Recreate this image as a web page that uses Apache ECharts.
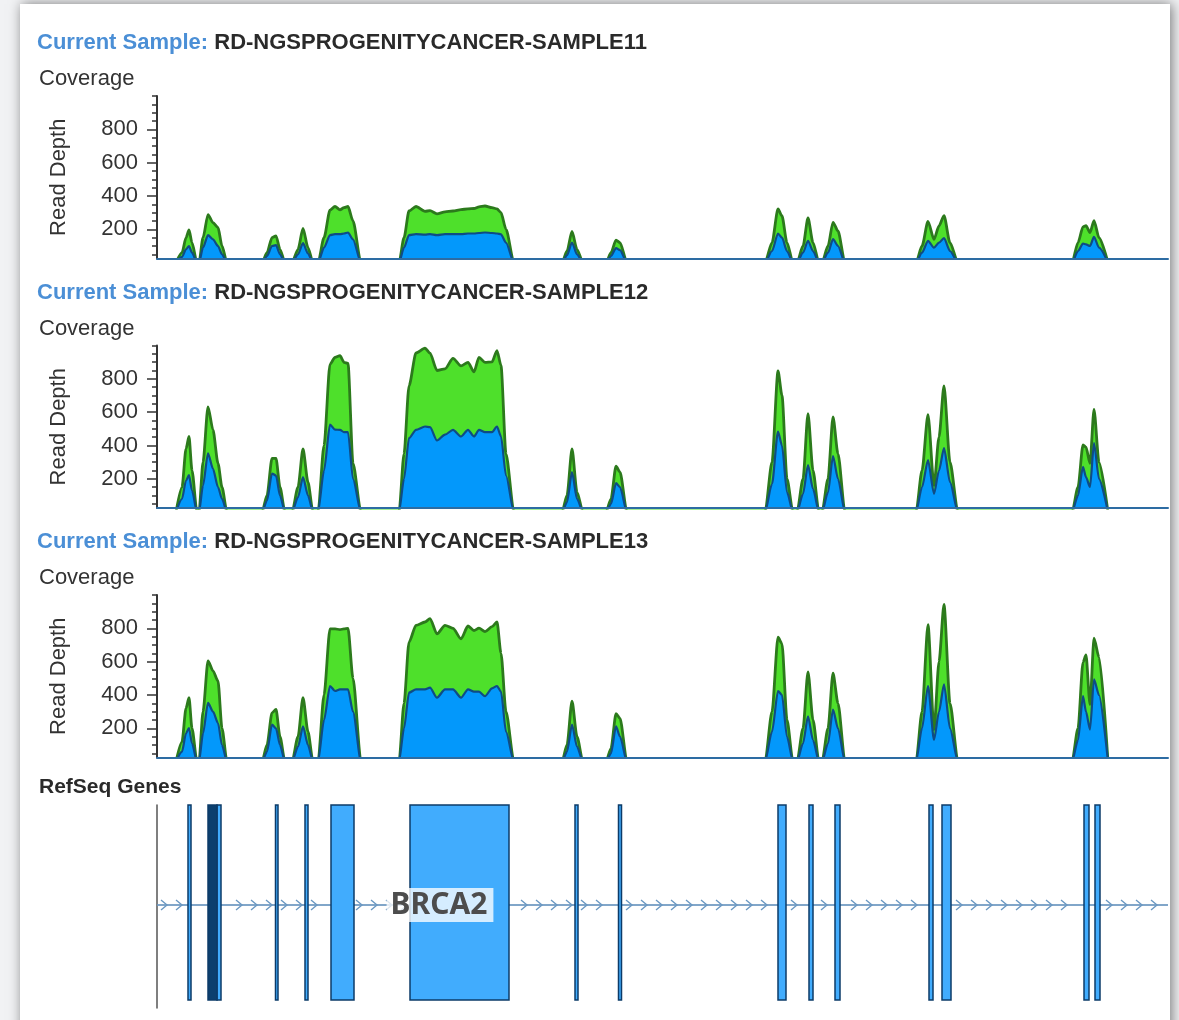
<!DOCTYPE html>
<html>
<head>
<meta charset="utf-8">
<title>BRCA2 coverage</title>
<script src="https://cdn.jsdelivr.net/npm/echarts@6/dist/echarts.min.js"></script>
<style>
  html, body { margin: 0; padding: 0; background: #f1f2f4; }
  #chart { width: 1179px; height: 1020px; }
</style>
</head>
<body>
<div id="chart"></div>
<script>
// 三个样本的覆盖度 + RefSeq 基因轨道
var sampleNames = [
  'RD-NGSPROGENITYCANCER-SAMPLE11',
  'RD-NGSPROGENITYCANCER-SAMPLE12',
  'RD-NGSPROGENITYCANCER-SAMPLE13'
]

// 位置（相对坐标，0 ~ 1011）
var positions = [
  19, 25, 29, 32, 35, 40,
  42, 46, 51, 56, 61, 65, 70,
  105, 110, 115, 119, 123, 128,
  135, 141, 146, 151, 156,
  161, 167, 173, 178, 183, 187, 191, 196, 204,
  242, 247, 252, 259, 268, 273, 280, 288, 296, 304, 311, 317, 322, 328, 335, 340, 344, 349, 357,
  405, 410, 415, 420, 426,
  449, 454, 459, 463, 470,
  608, 615, 621, 625, 630, 636,
  640, 646, 651, 656, 662,
  665, 671, 676, 681, 688,
  759, 765, 771, 777, 782, 787, 793, 801,
  915, 921, 926, 929, 933, 937, 942, 951
]

var total11 = [
  0, 60, 150, 196, 120, 0,
  0, 150, 288, 240, 211, 100, 0,
  0, 60, 150, 161, 80, 0,
  0, 80, 205, 90, 0,
  0, 150, 315, 337, 317, 330, 337, 250, 0,
  0, 150, 310, 337, 308, 312, 293, 305, 310, 318, 323, 325, 335, 340, 330, 323, 300, 200, 0,
  0, 70, 187, 80, 0,
  0, 60, 135, 120, 0,
  0, 120, 323, 280, 120, 0,
  0, 100, 268, 120, 0,
  0, 100, 242, 190, 0,
  0, 100, 248, 140, 220, 282, 120, 0,
  0, 120, 215, 222, 181, 252, 150, 0
]
var forward11 = [
  0, 35, 80, 100, 60, 0,
  0, 90, 165, 140, 100, 50, 0,
  0, 40, 100, 105, 50, 0,
  0, 50, 117, 55, 0,
  0, 90, 165, 171, 171, 175, 181, 140, 0,
  0, 90, 165, 171, 168, 171, 165, 171, 171, 171, 175, 175, 178, 181, 178, 175, 170, 120, 0,
  0, 45, 121, 50, 0,
  0, 40, 87, 75, 0,
  0, 70, 175, 150, 70, 0,
  0, 60, 131, 70, 0,
  0, 60, 141, 100, 0,
  0, 60, 131, 90, 120, 147, 70, 0,
  0, 70, 115, 110, 100, 155, 90, 0
]

var total12 = [
  0, 150, 380, 454, 250, 0,
  0, 300, 632, 494, 293, 150, 0,
  0, 100, 323, 323, 150, 0,
  0, 150, 379, 180, 0,
  0, 400, 888, 929, 939, 899, 893, 293, 0,
  0, 350, 757, 955, 984, 954, 850, 860, 923, 878, 899, 842, 929, 899, 902, 969, 880, 350, 0,
  0, 100, 379, 120, 0,
  0, 80, 276, 240, 0,
  0, 300, 848, 700, 200, 0,
  0, 200, 591, 250, 0,
  0, 200, 571, 350, 0,
  0, 250, 585, 160, 450, 757, 300, 0,
  0, 150, 404, 390, 293, 616, 300, 0
]
var forward12 = [
  0, 80, 190, 222, 130, 0,
  0, 160, 353, 260, 151, 80, 0,
  0, 70, 232, 220, 100, 0,
  0, 90, 211, 100, 0,
  0, 250, 525, 495, 494, 480, 480, 200, 0,
  0, 200, 444, 494, 514, 510, 430, 465, 494, 454, 494, 454, 494, 480, 480, 514, 454, 220, 0,
  0, 60, 240, 80, 0,
  0, 50, 174, 150, 0,
  0, 170, 484, 400, 120, 0,
  0, 110, 282, 140, 0,
  0, 120, 337, 200, 0,
  0, 150, 313, 110, 250, 384, 180, 0,
  0, 100, 272, 210, 151, 414, 200, 0
]

var total13 = [
  0, 120, 320, 384, 200, 0,
  0, 300, 605, 545, 484, 200, 0,
  0, 100, 293, 313, 150, 0,
  0, 150, 384, 180, 0,
  0, 400, 797, 797, 792, 797, 800, 500, 0,
  0, 350, 717, 818, 838, 858, 767, 818, 800, 737, 814, 787, 801, 780, 810, 838, 650, 300, 0,
  0, 100, 363, 150, 0,
  0, 80, 288, 260, 0,
  0, 300, 747, 707, 250, 0,
  0, 200, 539, 250, 0,
  0, 200, 531, 350, 0,
  0, 300, 822, 192, 600, 943, 350, 0,
  0, 200, 596, 640, 343, 741, 626, 0
]
var forward13 = [
  0, 60, 170, 202, 110, 0,
  0, 170, 353, 300, 232, 100, 0,
  0, 60, 222, 200, 100, 0,
  0, 90, 212, 100, 0,
  0, 250, 454, 424, 434, 434, 434, 300, 0,
  0, 200, 414, 434, 434, 444, 384, 434, 434, 384, 434, 420, 420, 393, 440, 454, 420, 180, 0,
  0, 60, 222, 90, 0,
  0, 50, 212, 150, 0,
  0, 180, 424, 400, 150, 0,
  0, 110, 272, 130, 0,
  0, 110, 313, 200, 0,
  0, 200, 454, 131, 300, 464, 200, 0,
  0, 130, 393, 300, 192, 494, 400, 0
]

var totals = [total11, total12, total13]
var forwards = [forward11, forward12, forward13]

// y轴刻度
var depthLabels = [200, 400, 600, 800]
var depthTicks = [50, 100, 150, 200, 250, 300, 350, 400, 450, 500, 550, 600, 650, 700, 750, 800, 850, 900, 950, 1000]

// 基因 BRCA2 外显子 [起点, 终点]
var geneName = 'BRCA2'
var geneSpan = [0, 1011]
var exons = [
  [31, 34], [60, 64], [118.5, 121], [148, 151], [174, 197], [253, 352],
  [418, 421], [461.5, 464.5], [621, 629], [652, 656], [678, 683],
  [772, 776], [785, 794], [927, 932], [938, 943]
]
var darkExons = [[51, 60]]

var FONT = '"Liberation Sans", Arial, sans-serif'
var gridTops = [96, 345.5, 595]
var gridH = 162.5

function pairs(vals) {
  return positions.map(function (p, i) { return [p, vals[i]] })
}

var grids = []
var xAxes = []
var yAxes = []
var series = []
var titles = []

gridTops.forEach(function (top, k) {
  grids.push({ left: 157, right: 11, top: top, height: gridH })
  xAxes.push({
    gridIndex: k, type: 'value', min: 0, max: 1011, z: 5,
    axisLine: { show: true, onZero: false, lineStyle: { color: '#2d6ca3', width: 2 } },
    axisTick: { show: false }, axisLabel: { show: false }, splitLine: { show: false }
  })
  yAxes.push({
    gridIndex: k, type: 'value', position: 'left', min: 25, max: 1000,
    name: 'Read Depth', nameLocation: 'middle', nameGap: 87,
    nameTextStyle: { fontSize: 22, color: '#333', fontFamily: FONT },
    axisLine: { show: true, lineStyle: { color: '#333', width: 2 } },
    axisTick: { show: true, customValues: depthLabels, length: 10, lineStyle: { color: '#333', width: 1.5 } },
    axisLabel: { customValues: depthLabels, fontSize: 22, color: '#333', margin: 19, fontFamily: FONT },
    splitLine: { show: false }
  })
  // 次刻度
  yAxes.push({
    gridIndex: k, type: 'value', position: 'left', min: 25, max: 1000,
    axisLine: { show: false },
    axisTick: { show: true, customValues: depthTicks, length: 5, lineStyle: { color: '#333', width: 1.5 } },
    axisLabel: { show: false }, splitLine: { show: false }
  })
  series.push({
    type: 'line', xAxisIndex: k, yAxisIndex: 2 * k, data: pairs(totals[k]),
    symbol: 'none', smooth: 0.25, smoothMonotone: 'x', silent: true, z: 2,
    lineStyle: { color: '#2c7a1c', width: 2.8 },
    areaStyle: { color: '#4ee02b', opacity: 1 }
  })
  series.push({
    type: 'line', xAxisIndex: k, yAxisIndex: 2 * k, data: pairs(forwards[k]),
    symbol: 'none', smooth: 0.25, smoothMonotone: 'x', silent: true, z: 3,
    lineStyle: { color: '#0f4c84', width: 2.2 },
    areaStyle: { color: '#0398fb', opacity: 1 }
  })
  titles.push({
    text: '{a|Current Sample:} {b|' + sampleNames[k] + '}',
    left: 37, top: top - 64, padding: 0,
    textStyle: {
      fontSize: 22, fontFamily: FONT,
      rich: {
        a: { color: '#4b8fd6', fontWeight: 'bold', fontSize: 22, fontFamily: FONT },
        b: { color: '#2a2a2a', fontWeight: 'bold', fontSize: 22, fontFamily: FONT }
      }
    }
  })
  titles.push({
    text: 'Coverage', left: 39, top: top - 28, padding: 0,
    textStyle: { fontSize: 22, fontWeight: 'normal', color: '#333', fontFamily: FONT }
  })
})

titles.push({
  text: 'RefSeq Genes', left: 39, top: 777, padding: 0,
  textStyle: { fontSize: 21, fontWeight: 'bold', color: '#2a2a2a', fontFamily: FONT }
})

// 基因轨道
grids.push({ left: 157, right: 11, top: 805, height: 203 })
xAxes.push({ gridIndex: 3, type: 'value', min: 0, max: 1011, show: false })
yAxes.push({
  gridIndex: 3, type: 'value', min: 0, max: 1, position: 'left',
  axisLine: { show: true, lineStyle: { color: '#555', width: 1.5 } },
  axisTick: { show: false }, axisLabel: { show: false }, splitLine: { show: false }
})

var allExons = exons.concat(darkExons)

function nearExon(px, api) {
  for (var i = 0; i < allExons.length; i++) {
    var a = api.coord([allExons[i][0], 0])[0]
    var b = api.coord([allExons[i][1], 0])[0]
    if (px > a - 5 && px < b + 5) return true
  }
  return false
}

// 内含子线和箭头
series.push({
  type: 'custom', xAxisIndex: 3, yAxisIndex: 6, silent: true, z: 1,
  data: [geneSpan],
  renderItem: function (params, api) {
    var s = api.coord([api.value(0), 0])[0]
    var e = api.coord([api.value(1), 0])[0]
    var cs = params.coordSys
    var y = cs.y + 100
    var kids = [{
      type: 'line', shape: { x1: s, y1: y, x2: e, y2: y },
      style: { stroke: '#6b97bf', lineWidth: 2, opacity: 0.85 }
    }]
    for (var x = s + 8; x < e - 2; x += 15) {
      if (nearExon(x, api)) continue
      kids.push({
        type: 'polyline',
        shape: { points: [[x - 4, y - 5], [x + 2, y], [x - 4, y + 5]] },
        style: { stroke: '#6a98c2', lineWidth: 1.4, fill: null }
      })
    }
    return { type: 'group', children: kids }
  }
})

function exonRender(fill) {
  return function (params, api) {
    var s = api.coord([api.value(0), 0])[0]
    var e = api.coord([api.value(1), 0])[0]
    var cs = params.coordSys
    return {
      type: 'rect',
      shape: { x: s, y: cs.y, width: Math.max(e - s, 1), height: cs.height - 8 },
      style: { fill: fill, stroke: '#0c3b68', lineWidth: 1.5 }
    }
  }
}

series.push({
  type: 'custom', xAxisIndex: 3, yAxisIndex: 6, silent: true, z: 2,
  data: exons, renderItem: exonRender('#41acfd')
})
series.push({
  type: 'custom', xAxisIndex: 3, yAxisIndex: 6, silent: true, z: 2,
  data: darkExons, renderItem: exonRender('#0b3f6e')
})

// 基因名标签
series.push({
  type: 'custom', xAxisIndex: 3, yAxisIndex: 6, silent: true, z: 4,
  data: [geneSpan],
  renderItem: function (params, api) {
    var x = api.coord([283, 0])[0]
    var y = params.coordSys.y + 100
    return {
      type: 'text',
      style: {
        text: geneName, x: x, y: y, align: 'center', verticalAlign: 'middle',
        fontSize: 30, fontWeight: 'bold', fontFamily: '"Noto Sans", "DejaVu Sans", sans-serif',
        fill: '#4d4d4d',
        backgroundColor: 'rgba(255,255,255,0.78)', padding: [2, 6, 2, 4]
      }
    }
  }
})

var option = {
  backgroundColor: '#f1f2f4',
  animation: false,
  graphic: [{
    type: 'rect', z: -10, silent: true,
    shape: { x: 20, y: 4, width: 1150, height: 1040 },
    style: { fill: '#fff', shadowBlur: 12, shadowColor: 'rgba(0,0,0,0.5)', shadowOffsetX: 2 }
  }],
  title: titles,
  grid: grids,
  xAxis: xAxes,
  yAxis: yAxes,
  series: series
}

var mCharts = echarts.init(document.getElementById('chart'))
mCharts.setOption(option)
</script>
</body>
</html>
